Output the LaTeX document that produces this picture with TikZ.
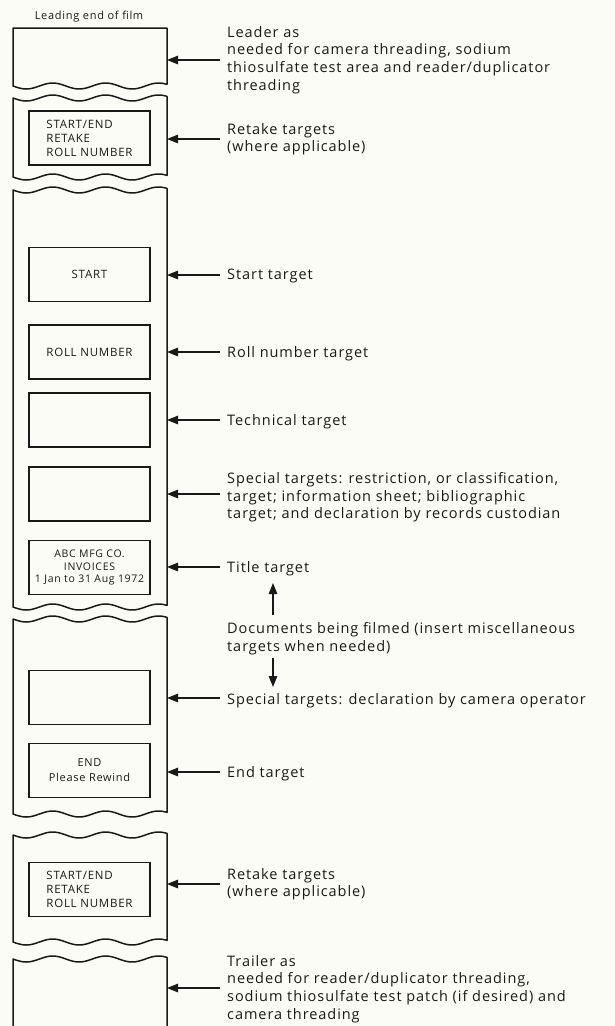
\documentclass[tikz,border=0pt]{standalone}
\usepackage{fontspec}
\setmainfont{Open Sans}[LetterSpace=6.5]
\usetikzlibrary{arrows.meta}
\definecolor{paper}{RGB}{252,252,246}
\definecolor{ink}{RGB}{25,25,25}
\begin{document}
\begin{tikzpicture}[x=1pt,y=-1pt,
  every node/.style={text=ink},
  film/.style={draw=ink, line width=1.5pt, line join=round},
  target/.style={draw=ink, line width=1.3pt, minimum width=121pt, minimum height=54pt, inner sep=0pt, font=\fontsize{11.5}{14}\selectfont},
  lbl/.style={anchor=north west, align=left, inner sep=0pt, font=\fontsize{14.5}{17.7}\selectfont},
  conn/.style={draw=ink, line width=1.2pt, -{Triangle[length=11pt,width=8.5pt]}},
]
\fill[paper] (0,0) rectangle (615,1026);
\useasboundingbox (0,0) rectangle (615,1026);

% film strip segments
\draw[film] (13,86) -- (13,28) -- (167,28) -- (167,84.4)
  -- plot[domain=167:13,samples=60,smooth] (\x,{86+3*sin(6.8*(\x-13))}) -- cycle;
\draw[film] plot[domain=13:167,samples=60,smooth] (\x,{98+3*sin(6.8*(\x-13))})
  -- plot[domain=167:13,samples=60,smooth] (\x,{177+3*sin(6.8*(\x-13))}) -- cycle;
\draw[film] plot[domain=13:167,samples=60,smooth] (\x,{190+3*sin(6.8*(\x-13))})
  -- plot[domain=167:13,samples=60,smooth] (\x,{607+3*sin(6.8*(\x-13))}) -- cycle;
\draw[film] plot[domain=13:167,samples=60,smooth] (\x,{619+3*sin(6.8*(\x-13))})
  -- plot[domain=167:13,samples=60,smooth] (\x,{814+3*sin(6.8*(\x-13))}) -- cycle;
\draw[film] plot[domain=13:167,samples=60,smooth] (\x,{835+3*sin(6.8*(\x-13))})
  -- plot[domain=167:13,samples=60,smooth] (\x,{942+3*sin(6.8*(\x-13))}) -- cycle;
\draw[film] (13,1030) -- (13,959) -- plot[domain=13:167,samples=60,smooth] (\x,{959+3*sin(6.8*(\x-13))}) -- (167,1030);

\node[inner sep=0pt, font=\fontsize{11}{12}\selectfont] (leadend) at (89,17) {Leading end of film};

% targets
\node[target, align=left] (rt1) at (89.5,138) {START/END\\RETAKE\\ROLL NUMBER};
\node[target] (st) at (89.5,274.5) {START};
\node[target] (rn) at (89.5,352) {ROLL NUMBER};
\node[target] (tt) at (89.5,420) {};
\node[target] (sp1) at (89.5,494) {};
\node[target, align=center, font=\fontsize{10.5}{12.5}\selectfont] (ti) at (89.5,567.5) {ABC MFG CO.\\INVOICES\\1 Jan to 31 Aug 1972};
\node[target] (sp2) at (89.5,697.5) {};
\node[target, align=center, font=\fontsize{11}{15}\selectfont] (en) at (89.5,770.5) {END\\Please Rewind};
\node[target, align=left] (rt2) at (89.5,889.5) {START/END\\RETAKE\\ROLL NUMBER};

% labels
\node[lbl] (lLeader) at (227,26) {Leader as\\needed for camera threading, sodium\\thiosulfate test area and reader/duplicator\\threading};
\node[lbl] (lRt1) at (227,123) {Retake targets\\(where applicable)};
\node[lbl] (lSt) at (227,269) {Start target};
\node[lbl] (lRn) at (227,346) {Roll number target};
\node[lbl] (lTt) at (227,414) {Technical target};
\node[lbl] (lSp1) at (227,472) {Special targets: restriction, or classification,\\target; information sheet; bibliographic\\target; and declaration by records custodian};
\node[lbl] (lTi) at (227,561) {Title target};
\node[lbl] (lDoc) at (227,622) {Documents being filmed (insert miscellaneous\\targets when needed)};
\node[lbl] (lSp2) at (227,693) {Special targets: declaration by camera operator};
\node[lbl] (lEn) at (227,766) {End target};
\node[lbl] (lRt2) at (227,868) {Retake targets\\(where applicable)};
\node[lbl] (lTr) at (227,955) {Trailer as\\needed for reader/duplicator threading,\\sodium thiosulfate test patch (if desired) and\\camera threading};

% connector ends
\coordinate (aLs) at (220,60);   \coordinate (aLt) at (167,60);
\coordinate (aR1s) at (220,139); \coordinate (aR1t) at (167,139);
\coordinate (aSs) at (220,275);  \coordinate (aSt) at (167,275);
\coordinate (aRns) at (220,352); \coordinate (aRnt) at (167,352);
\coordinate (aTs) at (220,420);  \coordinate (aTt) at (167,420);
\coordinate (aP1s) at (220,494); \coordinate (aP1t) at (167,494);
\coordinate (aTis) at (220,567); \coordinate (aTit) at (167,567);
\coordinate (aP2s) at (220,698); \coordinate (aP2t) at (167,698);
\coordinate (aEs) at (220,772);  \coordinate (aEt) at (167,772);
\coordinate (aR2s) at (220,884); \coordinate (aR2t) at (167,884);
\coordinate (aTrs) at (220,988); \coordinate (aTrt) at (167,988);
\coordinate (upS) at (273,615);  \coordinate (upT) at (273,583);
\coordinate (dnS) at (273,658);  \coordinate (dnT) at (273,687);

\foreach \a in {L,R1,S,Rn,T,P1,Ti,P2,E,R2,Tr}{\draw[conn] (a\a s) -- (a\a t);}
\draw[conn] (upS) -- (upT);
\draw[conn] (dnS) -- (dnT);
\end{tikzpicture}
\end{document}
